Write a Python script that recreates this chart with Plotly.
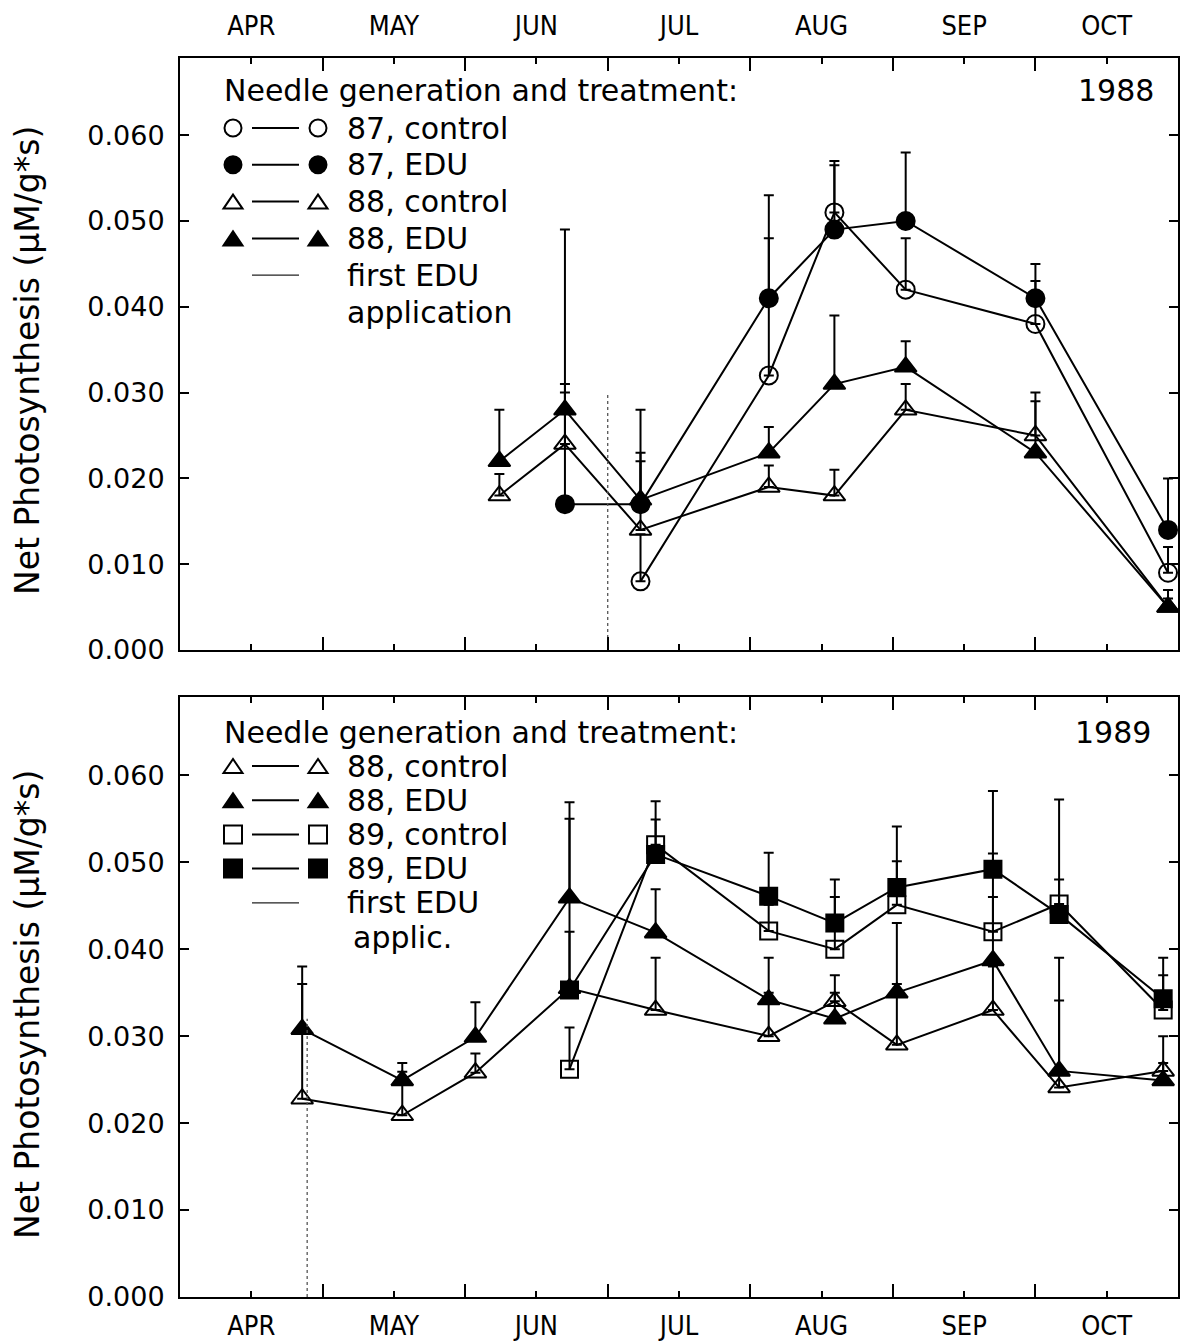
import plotly.graph_objects as go

# ---------------- data ----------------
months = ["APR", "MAY", "JUN", "JUL", "AUG", "SEP", "OCT"]
month_mid = [0.5, 1.5, 2.5, 3.5, 4.5, 5.5, 6.5]       # month units, 0 = 1 April
month_edges = [0, 1, 2, 3, 4, 5, 6, 7]
y_ticks = [0.0, 0.01, 0.02, 0.03, 0.04, 0.05, 0.06]

# 1988 panel
x88_1988 = [2.24, 2.70, 3.23, 4.13, 4.59, 5.09, 6.00, 6.93]
c88_1988 = [0.018, 0.024, 0.014, 0.019, 0.018, 0.028, 0.025, 0.005]
c88_1988_err = [0.0025, 0.007, 0.008, 0.0025, 0.003, 0.003, 0.005, 0.002]
e88_1988 = [0.022, 0.028, 0.0175, 0.023, 0.031, 0.033, 0.023, 0.005]
e88_1988_err = [0.006, 0.021, 0.0055, 0.003, 0.008, 0.003, 0.006, 0.001]

x87c_1988 = [3.23, 4.13, 4.59, 5.09, 6.00, 6.93]
c87_1988 = [0.008, 0.032, 0.051, 0.042, 0.038, 0.009]
c87_1988_err = [0.0055, 0.016, 0.0055, 0.006, 0.005, 0.003]
x87e_1988 = [2.70, 3.23, 4.13, 4.59, 5.09, 6.00, 6.93]
e87_1988 = [0.017, 0.017, 0.041, 0.049, 0.050, 0.041, 0.014]
e87_1988_err = [0.013, 0.011, 0.012, 0.008, 0.008, 0.004, 0.006]

edu_start_1988 = 3.0
edu_line_top_1988 = 0.030

# 1989 panel
x88_1989 = [0.857, 1.559, 2.072, 2.732, 3.336, 4.129, 4.593, 5.028, 5.702, 6.166, 6.896]
c88_1989 = [0.0228, 0.0209, 0.0258, 0.0355, 0.033, 0.030, 0.034, 0.029, 0.033, 0.0241, 0.026]
c88_1989_err = [0.0132, 0.005, 0.0022, 0.0065, 0.006, 0.005, 0.003, 0.007, 0.005, 0.010, 0.004]
e88_1989 = [0.0308, 0.0249, 0.0299, 0.0459, 0.0419, 0.0342, 0.032, 0.035, 0.0387, 0.026, 0.0249]
e88_1989_err = [0.0072, 0.002, 0.004, 0.011, 0.005, 0.0048, 0.003, 0.008, 0.0073, 0.013, 0.002]

x89_1989 = [2.732, 3.336, 4.129, 4.593, 5.028, 5.702, 6.166, 6.896]
c89_1989 = [0.0262, 0.052, 0.0421, 0.040, 0.0451, 0.042, 0.0452, 0.033]
c89_1989_err = [0.0048, 0.005, 0.003, 0.006, 0.005, 0.009, 0.012, 0.004]
e89_1989 = [0.0353, 0.0509, 0.0461, 0.043, 0.0471, 0.0492, 0.044, 0.0343]
e89_1989_err = [0.0197, 0.004, 0.005, 0.005, 0.007, 0.009, 0.004, 0.0047]

edu_start_1989 = 0.892
edu_line_top_1989 = 0.032

legend_title = "Needle generation and treatment:"
legend_1988 = [("circle", False, "87, control"), ("circle", True, "87, EDU"),
               ("triangle", False, "88, control"), ("triangle", True, "88, EDU")]
legend_1989 = [("triangle", False, "88, control"), ("triangle", True, "88, EDU"),
               ("square", False, "89, control"), ("square", True, "89, EDU")]

# ---------------- styling ----------------
FONT = "DejaVu Sans"
NARROW = "Liberation Sans Narrow, DejaVu Sans Condensed, Arial Narrow, sans-serif"
BLACK = "black"
W, H = 1185, 1341
ML, MR, MT, MB = 180, 7, 58, 44
PW = W - ML - MR
PH = H - MT - MB
LEG_SIZE = 30


def px(x):
    return (x - ML) / PW


def py(y):
    return (H - MB - y) / PH


top_domain = [py(650), 1.0]
bot_domain = [0.0, py(697)]

fig = go.Figure()


def add_series(x, y, err, symbol, filled, xa, ya, size):
    sym = symbol if filled else symbol + "-open"
    fig.add_trace(go.Scatter(
        x=x, y=y, mode="lines+markers", xaxis=xa, yaxis=ya,
        line=dict(color=BLACK, width=2),
        marker=dict(symbol=sym, size=size, color=BLACK,
                    line=dict(color=BLACK, width=2)),
        error_y=dict(type="data", symmetric=False, array=err,
                     arrayminus=[0] * len(err), color=BLACK,
                     thickness=2, width=5),
        showlegend=False, cliponaxis=False))


# 1988
add_series(x88_1988, c88_1988, c88_1988_err, "triangle-up", False, "x", "y", 19)
add_series(x88_1988, e88_1988, e88_1988_err, "triangle-up", True, "x", "y", 19)
add_series(x87c_1988, c87_1988, c87_1988_err, "circle", False, "x", "y", 18)
add_series(x87e_1988, e87_1988, e87_1988_err, "circle", True, "x", "y", 18)
fig.add_trace(go.Scatter(x=[edu_start_1988, edu_start_1988], y=[0, edu_line_top_1988],
                         mode="lines", xaxis="x", yaxis="y", showlegend=False,
                         line=dict(color="#555", width=1.3, dash="dot")))
# 1989
add_series(x88_1989, c88_1989, c88_1989_err, "triangle-up", False, "x2", "y2", 19)
add_series(x88_1989, e88_1989, e88_1989_err, "triangle-up", True, "x2", "y2", 19)
add_series(x89_1989, c89_1989, c89_1989_err, "square", False, "x2", "y2", 17)
add_series(x89_1989, e89_1989, e89_1989_err, "square", True, "x2", "y2", 17)
fig.add_trace(go.Scatter(x=[edu_start_1989, edu_start_1989], y=[0, edu_line_top_1989],
                         mode="lines", xaxis="x2", yaxis="y2", showlegend=False,
                         line=dict(color="#555", width=1.3, dash="dot")))

# ---------------- legends (drawn as text + shapes) ----------------
shapes = []
annotations = []


def sym_shape(kind, filled, cx, cy):
    fill = BLACK if filled else "white"
    common = dict(xref="paper", yref="paper", line=dict(color=BLACK, width=2),
                  fillcolor=fill, layer="above")
    if kind == "circle":
        r = 8.5
        shapes.append(dict(type="circle", x0=px(cx - r), x1=px(cx + r),
                           y0=py(cy + r), y1=py(cy - r), **common))
    elif kind == "square":
        r = 9
        shapes.append(dict(type="rect", x0=px(cx - r), x1=px(cx + r),
                           y0=py(cy + r), y1=py(cy - r), **common))
    else:
        hw, h = 9.5, 14
        path = "M {:.5f},{:.5f} L {:.5f},{:.5f} L {:.5f},{:.5f} Z".format(
            px(cx - hw), py(cy + h / 2), px(cx + hw), py(cy + h / 2),
            px(cx), py(cy - h / 2))
        shapes.append(dict(type="path", path=path, **common))


def text_ann(text, x, y, xanchor="left", size=LEG_SIZE):
    annotations.append(dict(text=text, xref="paper", yref="paper",
                            x=px(x), y=py(y), xanchor=xanchor, yanchor="middle",
                            showarrow=False, font=dict(family=FONT, size=size, color=BLACK)))


def build_legend(entries, title_y, row0, step, extra, year, year_x, text_x2):
    text_ann(legend_title, 222, title_y)
    text_ann(year, year_x, title_y, xanchor="right")
    for i, (kind, filled, label) in enumerate(entries):
        cy = row0 + i * step
        sym_shape(kind, filled, 233, cy)
        sym_shape(kind, filled, 318, cy)
        shapes.append(dict(type="line", xref="paper", yref="paper",
                           x0=px(252), x1=px(299), y0=py(cy), y1=py(cy),
                           line=dict(color=BLACK, width=2)))
        text_ann(label, 345, cy)
    cy = row0 + 4 * step
    shapes.append(dict(type="line", xref="paper", yref="paper",
                       x0=px(252), x1=px(299), y0=py(cy), y1=py(cy),
                       line=dict(color="#222", width=1.3)))
    text_ann("first EDU", 345, cy)
    text_ann(extra, text_x2, row0 + 5 * step)


build_legend(legend_1988, 91, 128, 36.8, "application", "1988", 1156, 345)
build_legend(legend_1989, 732, 766, 34.2, "applic.", "1989", 1153, 351)

ytitle = "Net Photosynthesis (μM/g*s)"
for cy in (361, 1005):
    annotations.append(dict(text=ytitle, xref="paper", yref="paper", x=px(27), y=py(cy),
                            xanchor="center", yanchor="middle", textangle=-90,
                            showarrow=False, font=dict(family=FONT, size=33, color=BLACK)))

# ---------------- axes ----------------
def xaxis_cfg(side, anchor, standoff):
    return dict(range=[0, 7], domain=[0, 1], anchor=anchor, side=side,
                tickmode="array", tickvals=month_mid, ticktext=months,
                ticks="inside", ticklen=6, tickwidth=2, tickcolor=BLACK,
                minor=dict(tickmode="array", tickvals=month_edges, ticks="inside",
                           ticklen=13, tickwidth=2, tickcolor=BLACK, showgrid=False),
                showline=True, linewidth=2, linecolor=BLACK, mirror="ticks",
                showgrid=False, zeroline=False, ticklabelstandoff=standoff,
                automargin=False,
                tickfont=dict(family=NARROW, size=27, color=BLACK))


def yaxis_cfg(domain, anchor):
    return dict(range=[0, 0.069], domain=domain, anchor=anchor,
                tickmode="array", tickvals=y_ticks, tickformat=".3f",
                ticks="inside", ticklen=9, tickwidth=2, tickcolor=BLACK,
                showline=True, linewidth=2, linecolor=BLACK, mirror="ticks",
                showgrid=False, zeroline=False, ticklabelstandoff=8,
                automargin=False,
                tickfont=dict(family=FONT, size=27, color=BLACK))


fig.update_layout(
    width=W, height=H,
    margin=dict(l=ML, r=MR, t=MT, b=MB, pad=0, autoexpand=False),
    paper_bgcolor="white", plot_bgcolor="white",
    xaxis=xaxis_cfg("top", "y", 10),
    yaxis=yaxis_cfg(top_domain, "x"),
    xaxis2=xaxis_cfg("bottom", "y2", 4),
    yaxis2=yaxis_cfg(bot_domain, "x2"),
    shapes=shapes, annotations=annotations,
    showlegend=False,
)

fig.write_html("out.html")
